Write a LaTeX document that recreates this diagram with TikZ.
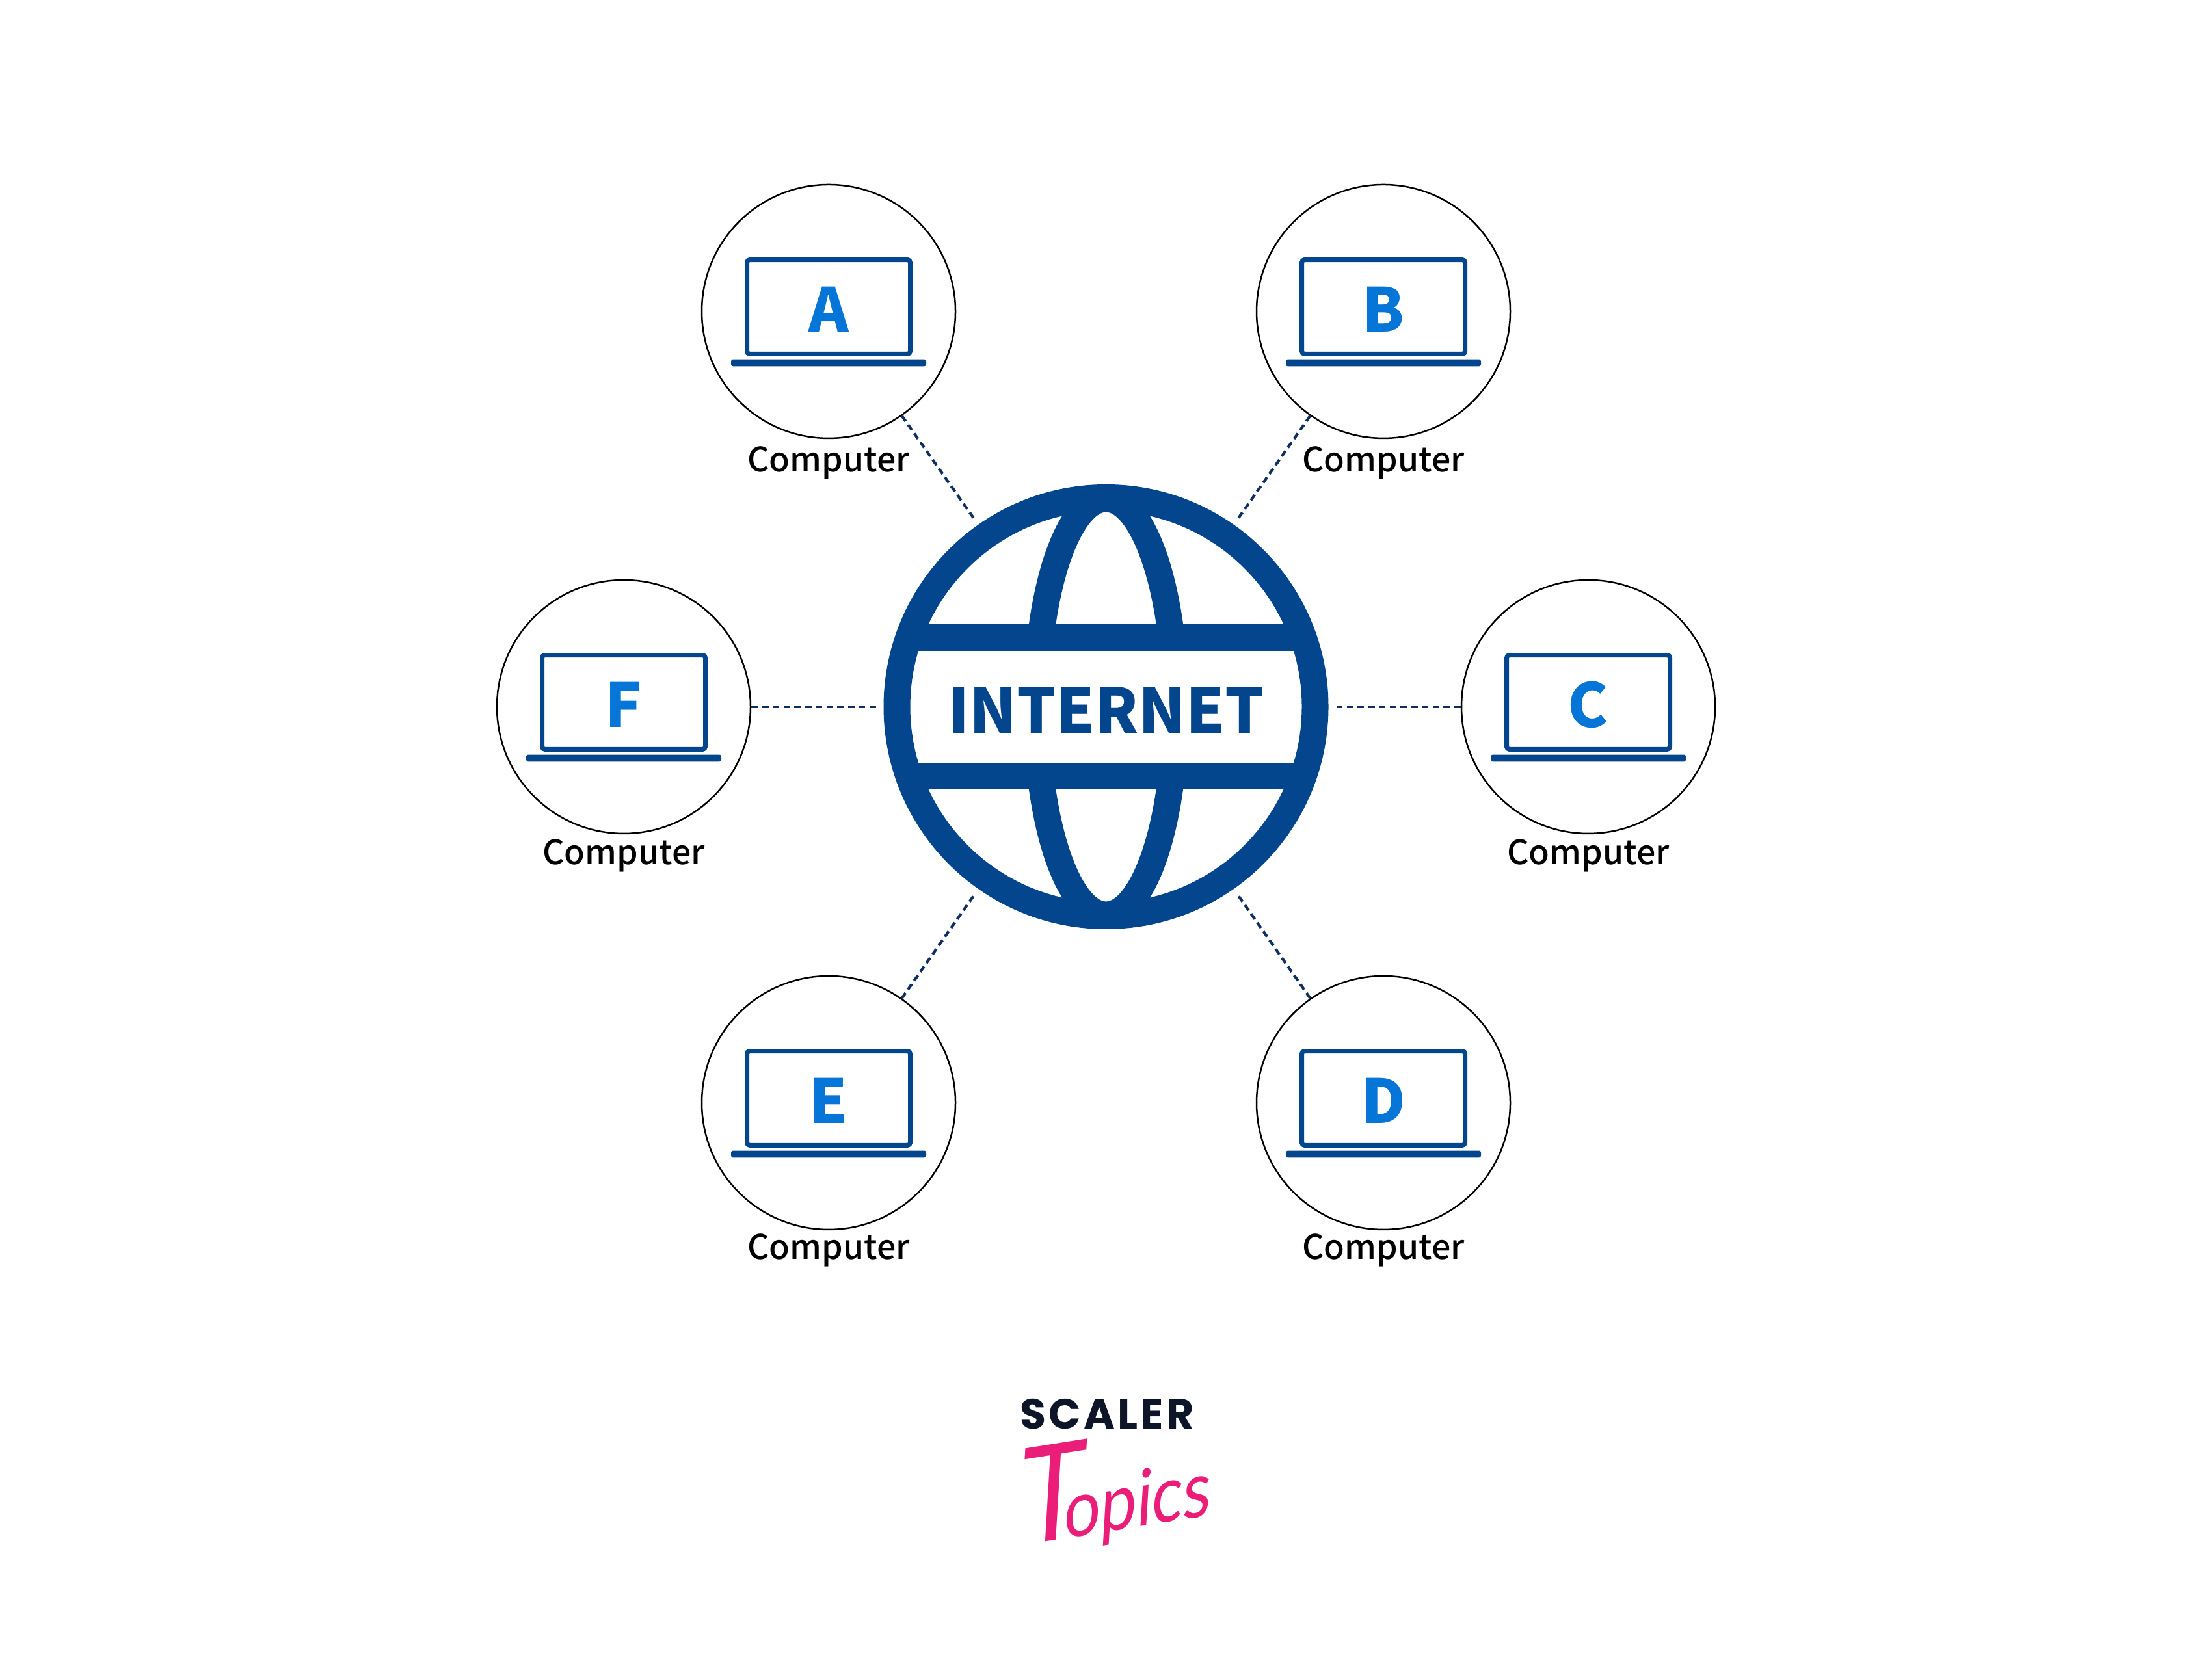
\documentclass[tikz,border=0pt]{standalone}
\usepackage{fontspec}
\setmainfont{Noto Sans CJK SC}
\newfontfamily\labelfont{Noto Sans CJK SC Medium}
\newfontfamily\logofont[LetterSpace=6.5]{Poppins}
\newfontfamily\topicsfont[FakeStretch=0.84,FakeSlant=0.22]{Lato}
\definecolor{globeblue}{HTML}{04468E}
\definecolor{letterblue}{HTML}{0675D8}
\definecolor{linknavy}{HTML}{0F2E63}
\definecolor{logonavy}{HTML}{0D1628}
\definecolor{logopink}{HTML}{EA1E78}
\tikzset{
  comp/.style={circle,draw=black,line width=0.025cm,minimum size=3.9cm,inner sep=0pt},
  screen/.style={rectangle,draw=globeblue,line width=0.07cm,rounded corners=0.04cm,minimum width=2.51cm,minimum height=1.447cm,inner sep=0pt,text=letterblue,font=\bfseries\fontsize{26.5}{26.5}\selectfont,text height=0.78cm,text depth=0pt},
  base/.style={rectangle,fill=globeblue,rounded corners=0.03cm,minimum width=3.0cm,minimum height=0.107cm,inner sep=0pt},
  complabel/.style={anchor=base,inner sep=0pt,font=\labelfont\fontsize{14.75}{14.75}\selectfont},
  link/.style={draw=linknavy,line width=0.042cm,dash pattern=on 0.1cm off 0.065cm},
}
\begin{document}
\begin{tikzpicture}
      \useasboundingbox (0,0) rectangle (34.01,25.76);%

      \node[comp] (compA) at (12.74,20.97) {};%
      \node[comp] (compB) at (21.27,20.97) {};%
      \node[comp] (compC) at (24.42,14.89) {};%
      \node[comp] (compD) at (21.27,8.80) {};%
      \node[comp] (compE) at (12.74,8.80) {};%
      \node[comp] (compF) at (9.59,14.89) {};%

      \node[screen] (screenA) at (12.74,21.04) {A};%
      \node[screen] (screenB) at (21.27,21.04) {B};%
      \node[screen] (screenC) at (24.42,14.96) {C};%
      \node[screen] (screenD) at (21.27,8.87) {D};%
      \node[screen] (screenE) at (12.74,8.87) {E};%
      \node[screen] (screenF) at (9.59,14.96) {F};%

      \node[base] (baseA) at (12.74,20.18) {};%
      \node[base] (baseB) at (21.27,20.18) {};%
      \node[base] (baseC) at (24.42,14.10) {};%
      \node[base] (baseD) at (21.27,8.01) {};%
      \node[base] (baseE) at (12.74,8.01) {};%
      \node[base] (baseF) at (9.59,14.10) {};%

      \node[complabel] (labelA) at (12.74,18.50) {Computer};%
      \node[complabel] (labelB) at (21.27,18.50) {Computer};%
      \node[complabel] (labelC) at (24.42,12.46) {Computer};%
      \node[complabel] (labelD) at (21.27,6.39) {Computer};%
      \node[complabel] (labelE) at (12.74,6.39) {Computer};%
      \node[complabel] (labelF) at (9.59,12.46) {Computer};%

      % globe
      \begin{scope}
        \clip (14,15.9) rectangle (20,18.5);%
        \draw[globeblue,line width=0.41cm] (17.005,14.89) ellipse (1.066 and 3.2);%
      \end{scope}
      \begin{scope}
        \clip (14,11.3) rectangle (20,13.9);%
        \draw[globeblue,line width=0.41cm] (17.005,14.89) ellipse (1.066 and 3.2);%
      \end{scope}
      \fill[globeblue] (14,15.75) rectangle (20,16.165);%
      \fill[globeblue] (14,13.62) rectangle (20,14.03);%
      \node[circle,draw=globeblue,line width=0.41cm,minimum size=6.43cm,inner sep=0pt,text=globeblue,font=\bfseries\fontsize{27}{27}\selectfont,text height=0.82cm,text depth=0pt] (globe) at (17.005,14.89) {INTERNET};%

      \draw[link,shorten >=0.12cm] (compA) -- (globe);%
      \draw[link,shorten >=0.12cm] (compB) -- (globe);%
      \draw[link,shorten >=0.12cm] (compC) -- (globe);%
      \draw[link,shorten >=0.12cm] (compD) -- (globe);%
      \draw[link,shorten >=0.12cm] (compE) -- (globe);%
      \draw[link,shorten >=0.12cm] (compF) -- (globe);%

      % logo
      \node[anchor=base,inner sep=0pt,text=logonavy,font=\logofont\bfseries\fontsize{18.5}{18.5}\selectfont] (scaler) at (17.02,3.78) {SCALER};%
      \node[rotate=9,inner sep=0pt,text=logopink,font=\topicsfont\fontsize{34}{34}\selectfont] (topics) at (17.03,2.84) {{\fontsize{58}{58}\selectfont T}\kern-9pt opics};%
\end{tikzpicture}
\end{document}
